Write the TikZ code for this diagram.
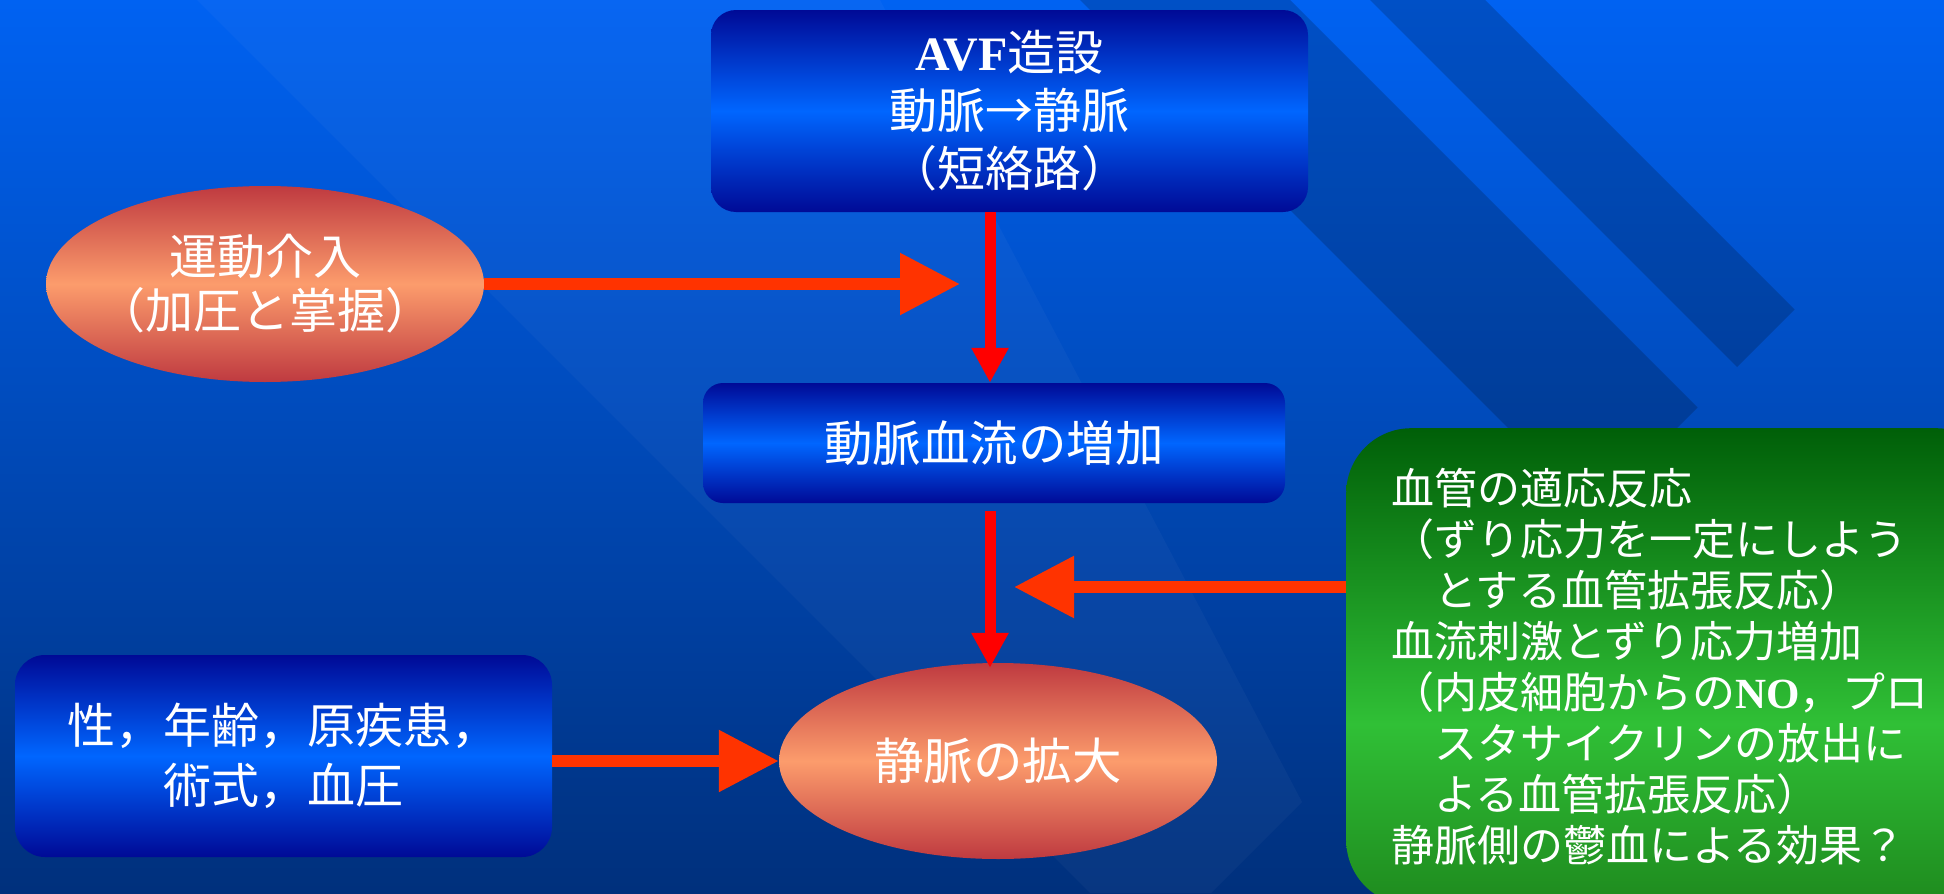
\documentclass[tikz,border=0pt]{standalone}
\usepackage{fontspec}
\setmainfont{Noto Sans CJK JP}
\newfontfamily\tms{Liberation Serif}
\usetikzlibrary{shapes.geometric,arrows.meta}
\definecolor{bgtop}{HTML}{0062F2}
\definecolor{bgbot}{HTML}{00307C}
\definecolor{bxdark}{HTML}{000A96}
\definecolor{bxlight}{HTML}{0066FF}
\definecolor{eldark}{HTML}{BF3A40}
\definecolor{ellight}{HTML}{FC9C6C}
\definecolor{gtop}{HTML}{005F08}
\definecolor{gmid}{HTML}{30C036}
\definecolor{gbot}{HTML}{1E8A1E}
\definecolor{arrowor}{HTML}{FF3300}
\definecolor{arrowred}{HTML}{FF0000}
\pgfdeclareverticalshading{greensh}{100bp}{color(0bp)=(gbot); color(25bp)=(gbot); color(44bp)=(gmid); color(75bp)=(gtop); color(100bp)=(gtop)}
\newcommand{\fitline}[1]{\makebox[280pt][c]{#1}}
\begin{document}
\begin{tikzpicture}[x=1pt,y=-1pt,
  bluebox/.style={rectangle, rounded corners=#1, top color=bxdark, bottom color=bxdark, middle color=bxlight, text=white, align=center, inner sep=0pt},
  oval/.style={ellipse, minimum width=438pt, minimum height=196pt, inner sep=0pt, top color=eldark, bottom color=eldark, middle color=ellight, text=white, align=center},
  greenbox/.style={shade, shading=greensh, rounded corners=65pt, text=white, align=left},
  arrowR/.style={draw=arrowred, line width=11pt, -{Triangle[length=35pt,width=35pt]}},
  arrowO/.style={draw=arrowor, line width=12pt, -{Triangle[length=60pt,width=59pt]}},
  lightband/.style={fill=white, fill opacity=0.03},
  darkband/.style={fill=black, fill opacity=0.18}]
\useasboundingbox (0,0) rectangle (1944,894);
% background
\fill[top color=bgtop, bottom color=bgbot] (0,0) rectangle (1944,894);
\fill[lightband] (197,0) -- (880,0) -- (1302,802) -- (1211,893) -- (1090,893) -- cycle;
\fill[darkband] (1080,0) -- (1290,0) -- (1697.5,407.5) -- (1592.5,512.5) -- cycle;
\fill[darkband] (1370,0) -- (1485,0) -- (1794.5,309.5) -- (1737,367) -- cycle;
% nodes
\node[bluebox=25pt, minimum width=597pt, minimum height=202pt, font=\fontsize{48}{58}\selectfont] (avf) at (1009.5,111)
  {{\tms\bfseries AVF}造設\\動脈→静脈\\（短絡路）};
\node[oval, font=\fontsize{48}{54}\selectfont] (mot) at (265,284) {\fitline{運動介入}\\\fitline{（加圧と掌握）}};
\node[bluebox=20pt, minimum width=582pt, minimum height=120pt, font=\fontsize{48.5}{56}\selectfont] (mid) at (994,443)
  {動脈血流の増加};
\node[oval, font=\fontsize{49.5}{56}\selectfont] (ve) at (998,761) {静脈の拡大};
\node[bluebox=30pt, minimum width=537pt, minimum height=202pt, font=\fontsize{48}{60}\selectfont] (lb) at (283.5,756)
  {性，年齢，原疾患，\\術式，血圧};
\node[greenbox, minimum width=644pt, minimum height=477pt, anchor=north west,
  text width=565pt, inner xsep=45pt, inner ysep=0pt, font=\fontsize{43}{51}\selectfont] (gb) at (1346,428)
  {血管の適応反応\\（ずり応力を一定にしよう\\　とする血管拡張反応）\\血流刺激とずり応力増加\\（内皮細胞からの{\tms\bfseries NO}，プロ\\　スタサイクリンの放出に\\　よる血管拡張反応）\\静脈側の鬱血による効果？};
% connectors
\coordinate (ax) at (990,0);
\coordinate (t1) at (960,284);
\coordinate (t3) at (1014,587);
\draw[arrowR] (avf.south -| ax) -- (mid.north -| ax);
\draw[arrowR, shorten <=8pt, shorten >=-5pt] (mid.south -| ax) -- (ve.north -| ax);
\draw[arrowO] (mot.east) -- (t1);
\draw[arrowO] (gb.west |- t3) -- (t3);
\draw[arrowO] (lb.east |- ve.west) -- (ve.west);
\end{tikzpicture}
\end{document}
